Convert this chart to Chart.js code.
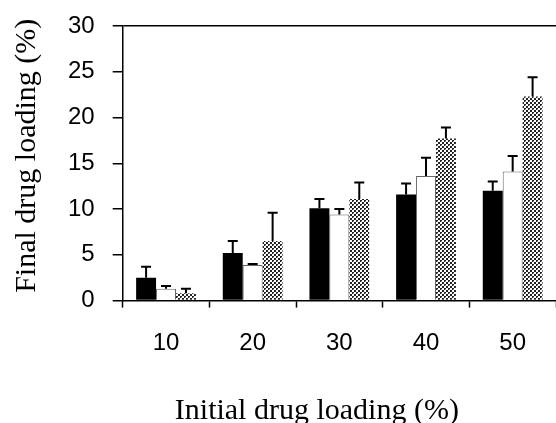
<!DOCTYPE html>
<html>
<head>
<meta charset="utf-8">
<script src="https://cdn.jsdelivr.net/npm/chart.js@4"></script>
<style>
  html, body { margin: 0; padding: 0; background: #fff; }
  #wrap { width: 556px; height: 423px; }
</style>
</head>
<body>
<div id="wrap"><canvas id="myChart"></canvas></div>
<script>
var categories = ['10', '20', '30', '40', '50'];
var blackValues = [2.5, 5.2, 10.1, 11.6, 12.0];
var blackErrors = [1.2, 1.3, 1.0, 1.2, 1.0];
var whiteValues = [1.3, 3.9, 9.4, 13.6, 14.1];
var whiteErrors = [0.3, 0.1, 0.6, 2.0, 1.7];
var dottedValues = [0.8, 6.5, 11.1, 17.7, 22.3];
var dottedErrors = [0.5, 3.1, 1.8, 1.2, 2.1];
var yTicks = [0, 5, 10, 15, 20, 25, 30];

// stippled grey fill for the third series
function makeDots() {
  var c = document.createElement('canvas');
  c.width = 4; c.height = 4;
  var g = c.getContext('2d');
  g.fillStyle = '#fff';
  g.fillRect(0, 0, 4, 4);
  g.fillStyle = '#222';
  g.fillRect(0, 0, 2, 2);
  g.fillRect(2, 2, 2, 2);
  g.fillStyle = '#999';
  g.fillRect(1, 1, 1, 1);
  return g.createPattern(c, 'repeat');
}

// upward error bars with a cap
var errorBars = {
  id: 'errorBars',
  afterDatasetsDraw: function(chart) {
    var ctx = chart.ctx;
    var yScale = chart.scales.y;
    ctx.save();
    ctx.strokeStyle = '#000';
    ctx.lineWidth = 2;
    chart.data.datasets.forEach(function(ds, i) {
      var meta = chart.getDatasetMeta(i);
      meta.data.forEach(function(bar, j) {
        var err = ds.errors[j];
        if (!err) return;
        var top = yScale.getPixelForValue(ds.data[j] + err);
        ctx.beginPath();
        ctx.moveTo(bar.x, bar.y);
        ctx.lineTo(bar.x, top);
        ctx.moveTo(bar.x - 5, top);
        ctx.lineTo(bar.x + 5, top);
        ctx.stroke();
      });
    });
    ctx.restore();
  }
};

var ctx = document.getElementById('myChart').getContext('2d');
var myChart = new Chart(ctx, {
  type: 'bar',
  data: {
    labels: categories,
    datasets: [{
      data: blackValues,
      errors: blackErrors,
      backgroundColor: '#000',
      borderWidth: 0
    }, {
      data: whiteValues,
      errors: whiteErrors,
      backgroundColor: '#fff',
      borderColor: '#666',
      borderWidth: 1
    }, {
      data: dottedValues,
      errors: dottedErrors,
      backgroundColor: makeDots(),
      borderWidth: 0
    }]
  },
  options: {
    responsive: true,
    maintainAspectRatio: false,
    animation: false,
    layout: { padding: { top: 26, left: 0, right: 0, bottom: 0 } },
    datasets: { bar: { categoryPercentage: 0.69, barPercentage: 1 } },
    scales: {
      x: {
        grid: { color: 'transparent', tickColor: '#000', tickLength: 7, tickWidth: 1.5 },
        border: { color: '#000', width: 1.5 },
        ticks: { color: '#000', padding: 21, font: { family: 'Liberation Sans', size: 24 } },
        title: {
          display: true,
          text: 'Initial drug loading (%)\u00a0\u00a0\u00a0\u00a0\u00a0\u00a0',
          color: '#000',
          padding: { top: 20, bottom: 0 },
          font: { family: 'Liberation Serif', size: 30, lineHeight: 0.82 }
        }
      },
      y: {
        min: 0,
        max: 30,
        afterBuildTicks: function(axis) {
          axis.ticks = yTicks.map(function(v) { return { value: v }; });
        },
        afterFit: function(axis) {
          // labels fit inside the top padding already
          axis.paddingTop = 0;
          axis.paddingBottom = 0;
        },
        grid: {
          color: function(c) { return c.tick && c.tick.value === 30 ? '#000' : 'transparent'; },
          tickColor: '#000',
          tickLength: 10,
          lineWidth: 1.5
        },
        border: { color: '#000', width: 1.5 },
        ticks: { color: '#000', padding: 18, font: { family: 'Liberation Sans', size: 24 } },
        title: {
          display: true,
          text: '\u00a0\u00a0Final drug loading (%)',
          color: '#000',
          padding: { top: 12, bottom: 8 },
          font: { family: 'Liberation Serif', size: 30, lineHeight: 1.0 }
        }
      }
    },
    plugins: {
      legend: { display: false },
      tooltip: { enabled: false }
    }
  },
  plugins: [errorBars]
});
</script>
</body>
</html>
